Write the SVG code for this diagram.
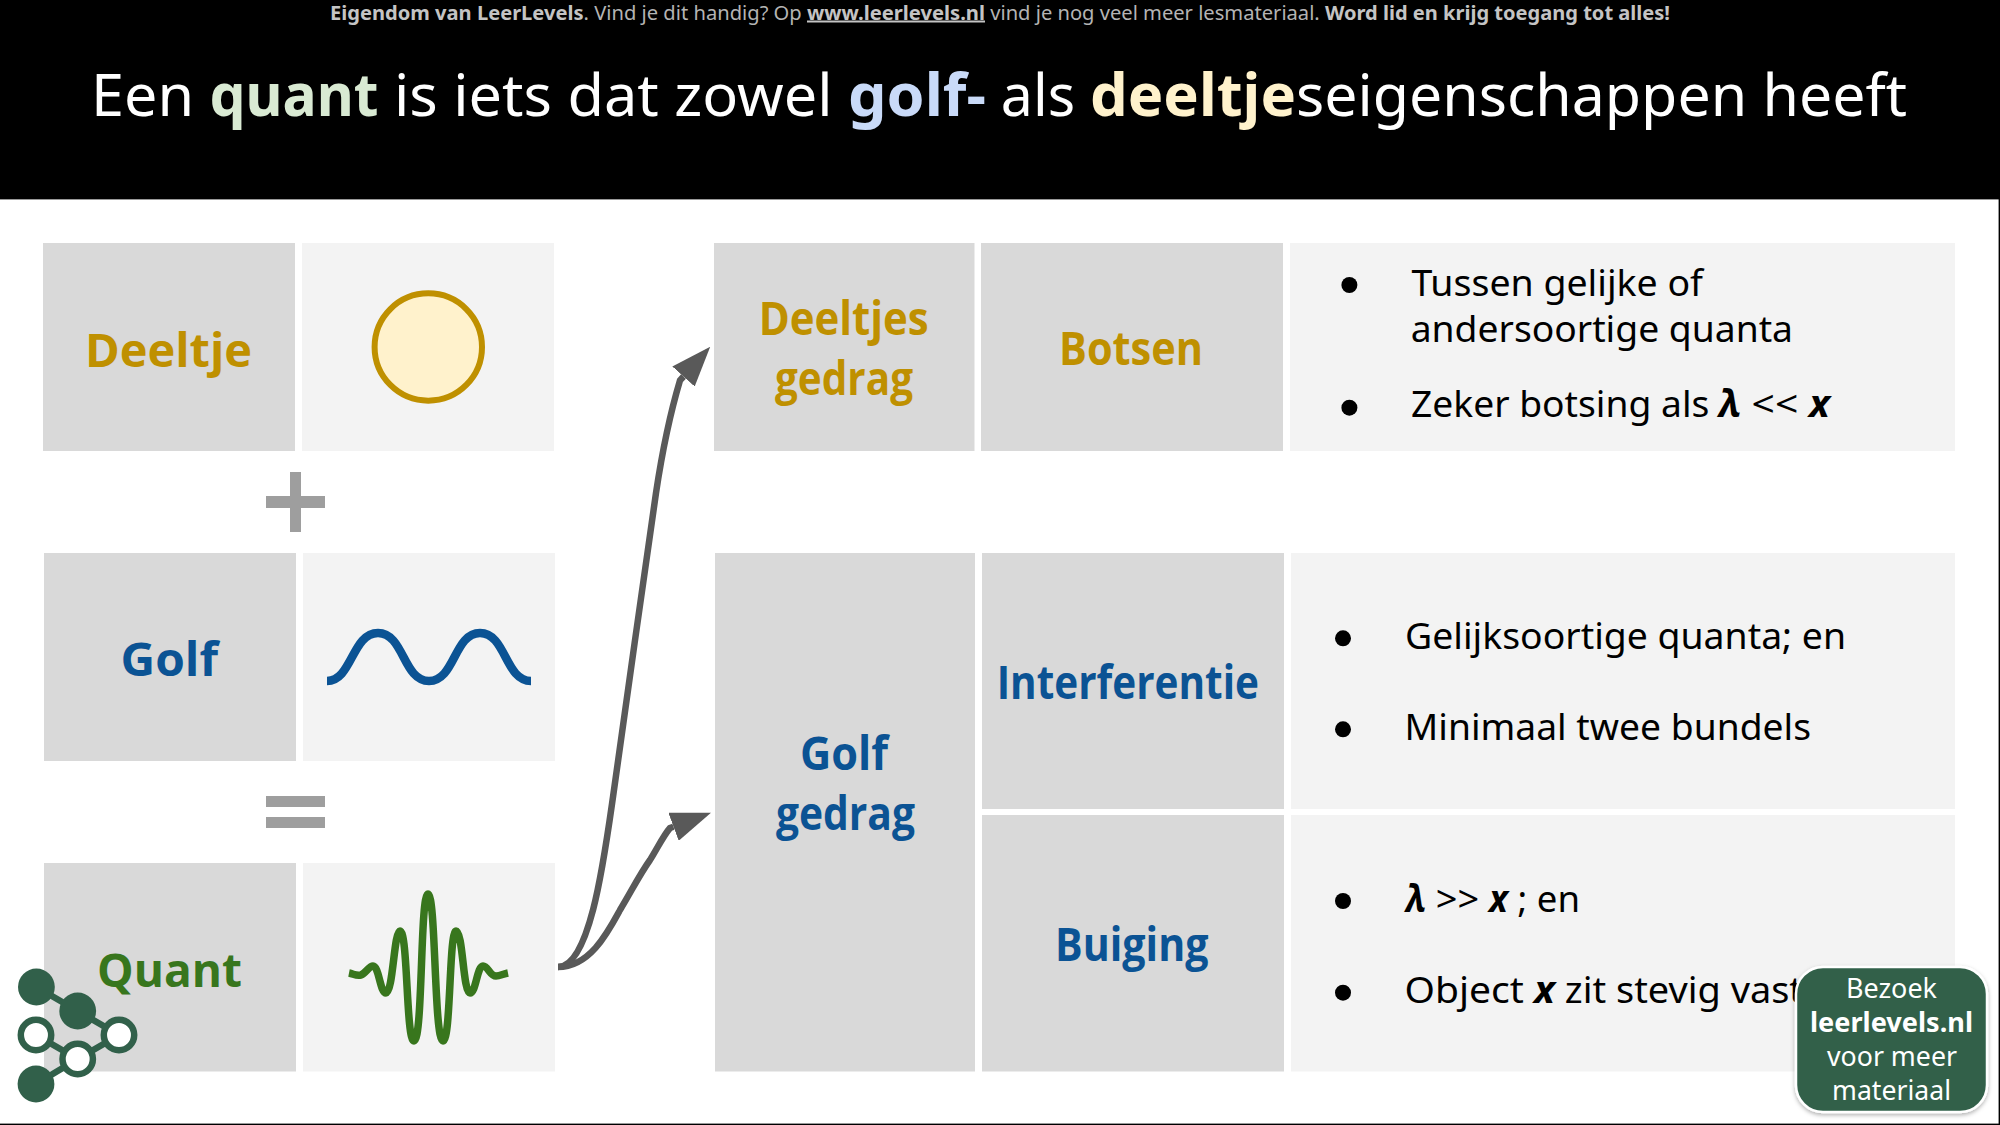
<svg xmlns="http://www.w3.org/2000/svg" width="2000" height="1125" viewBox="0 0 2000 1125">
<style>
text{font-family:"Noto Sans","Open Sans","DejaVu Sans",sans-serif}
.dark{fill:#d9d9d9}.light{fill:#f3f3f3}
.lab{font-family:"Open Sans","Noto Sans",sans-serif;font-weight:700;font-size:47px}
.y{fill:#bf9000}.b{fill:#0b5394}.g{fill:#38761d}
.body{font-size:37px;fill:#000}
.bi{font-weight:700;font-style:italic}
.bul{fill:#000}
.top{font-size:20px;fill:#b4b4b4}
.top .s{font-weight:700;fill:#c4c4c4}
.title{font-size:59px;fill:#fff}
.title .s{font-weight:700}
.wave{fill:none;stroke-width:8.5}
.wave2{fill:none;stroke-width:7.5}
.sym{fill:#9e9e9e}
.conn{fill:none;stroke:#595959;stroke-width:6.5;marker-end:url(#head)}
.lg{fill:none;stroke:#31604a;stroke-width:6.5}
.ln{fill:#31604a}.lo{fill:#fff;stroke:#31604a;stroke-width:6.5}
.bt{font-size:27px;fill:#fff;text-anchor:start}
</style>
<defs>
<marker id="head" markerUnits="userSpaceOnUse" markerWidth="40" markerHeight="30" viewBox="0 0 40 30" refX="0" refY="15" orient="auto"><polygon points="0,0 40,15 0,30" fill="#595959"/></marker>
<filter id="sh" x="-10%" y="-10%" width="120%" height="120%"><feDropShadow dx="0" dy="2" stdDeviation="2" flood-color="#000" flood-opacity="0.3"/></filter>
</defs>
<rect width="2000" height="1125" fill="#fff"/>
<g id="header">
<rect width="2000" height="199.4" fill="#000"/>
<text class="top" y="19.5"><tspan class="s" x="330" textLength="253.5" lengthAdjust="spacingAndGlyphs">Eigendom van LeerLevels</tspan><tspan x="583.5" textLength="223.5" lengthAdjust="spacingAndGlyphs">. Vind je dit handig? Op </tspan><tspan class="s" x="807" textLength="178" lengthAdjust="spacingAndGlyphs" text-decoration="underline">www.leerlevels.nl</tspan><tspan x="985" textLength="340" lengthAdjust="spacingAndGlyphs"> vind je nog veel meer lesmateriaal. </tspan><tspan class="s" x="1325" textLength="345" lengthAdjust="spacingAndGlyphs">Word lid en krijg toegang tot alles!</tspan></text>
<text class="title" y="116"><tspan x="91" textLength="118.5" lengthAdjust="spacingAndGlyphs">Een </tspan><tspan class="s" fill="#d9ead3" x="209.5" textLength="169" lengthAdjust="spacingAndGlyphs">quant</tspan><tspan x="378.5" textLength="469.5" lengthAdjust="spacingAndGlyphs"> is iets dat zowel </tspan><tspan class="s" fill="#c9daf8" x="848" textLength="138" lengthAdjust="spacingAndGlyphs">golf-</tspan><tspan x="986" textLength="104" lengthAdjust="spacingAndGlyphs"> als </tspan><tspan class="s" fill="#fff2cc" x="1090" textLength="206" lengthAdjust="spacingAndGlyphs">deeltje</tspan><tspan x="1296" textLength="611" lengthAdjust="spacingAndGlyphs">seigenschappen heeft</tspan></text>
</g>
<g id="node-deeltje">
<rect class="dark" x="43" y="243" width="252" height="208"/>
<text class="lab y" x="85" y="367" textLength="167" lengthAdjust="spacingAndGlyphs">Deeltje</text>
</g>
<g id="node-deeltje-icon">
<rect class="light" x="302" y="243" width="252" height="208"/>
<circle cx="428.3" cy="347" r="53.7" fill="#fff2cc" stroke="#bf9000" stroke-width="6"/>
</g>
<g id="plus"><rect class="sym" x="290" y="472" width="11" height="60"/><rect class="sym" x="266" y="496" width="59" height="12"/></g>
<g id="node-golf">
<rect class="dark" x="44" y="553" width="252" height="208"/>
<text class="lab b" x="120.5" y="676" textLength="97.5" lengthAdjust="spacingAndGlyphs">Golf</text>
</g>
<g id="node-golf-icon">
<rect class="light" x="303" y="553" width="252" height="208"/>
<path class="wave" stroke="#0b5394" d="M327 681C352 681 352 633 378 633S403 681 429 681S454 633 480 633S505 681 531 681"/>
</g>
<g id="equals"><rect class="sym" x="266" y="796" width="59" height="11"/><rect class="sym" x="266" y="817" width="59" height="11"/></g>
<g id="node-quant">
<rect class="dark" x="44" y="863" width="252" height="208.5"/>
<text class="lab g" x="97" y="987" textLength="145" lengthAdjust="spacingAndGlyphs">Quant</text>
</g>
<g id="node-quant-icon">
<rect class="light" x="303" y="863" width="252" height="208.5"/>
<path class="wave2" stroke="#38761d" d="M349 973C354 974 356 976 361 975C366 973 369 966 373 966C379 966 380 993 386 993C393 993 394 931 400 931C408 931 406 1041 414 1041C423 1041 420 894 428 894C436 894 434 1041 443 1041C451 1041 449 931 456 931C463 931 463 993 470 993C476 993 477 966 483 966C488 966 490 976 496 976C500 976 503 974 508 973"/>
</g>
<g id="node-deeltjes-gedrag">
<rect class="dark" x="714" y="243" width="260.5" height="208"/>
<text class="lab y" x="758.7" y="335" textLength="170" lengthAdjust="spacingAndGlyphs">Deeltjes</text>
<text class="lab y" x="775" y="395" textLength="138" lengthAdjust="spacingAndGlyphs">gedrag</text>
</g>
<g id="node-botsen">
<rect class="dark" x="981" y="243" width="302" height="208"/>
<text class="lab y" x="1059" y="365" textLength="144" lengthAdjust="spacingAndGlyphs">Botsen</text>
</g>
<g id="node-botsen-tekst">
<rect class="light" x="1290" y="243" width="665" height="208"/>
<circle class="bul" cx="1349.4" cy="285" r="8"/>
<text class="body" x="1411.4" y="295.7" textLength="291.6" lengthAdjust="spacingAndGlyphs">Tussen gelijke of</text>
<text class="body" x="1410.7" y="341.7" textLength="382.3" lengthAdjust="spacingAndGlyphs">andersoortige quanta</text>
<circle class="bul" cx="1349.4" cy="407.7" r="8"/>
<text class="body" y="417"><tspan x="1411" textLength="308" lengthAdjust="spacingAndGlyphs">Zeker botsing als </tspan><tspan class="bi" x="1719" textLength="22" lengthAdjust="spacingAndGlyphs">λ</tspan><tspan x="1741" textLength="68" lengthAdjust="spacingAndGlyphs"> &lt;&lt; </tspan><tspan class="bi" x="1809" textLength="21" lengthAdjust="spacingAndGlyphs">x</tspan></text>
</g>
<g id="node-golf-gedrag">
<rect class="dark" x="715" y="553" width="260" height="518.5"/>
<text class="lab b" x="800" y="770" textLength="88" lengthAdjust="spacingAndGlyphs">Golf</text>
<text class="lab b" x="776" y="830" textLength="139" lengthAdjust="spacingAndGlyphs">gedrag</text>
</g>
<g id="node-interferentie">
<rect class="dark" x="982" y="553" width="302" height="256"/>
<text class="lab b" x="996.7" y="699" textLength="262.3" lengthAdjust="spacingAndGlyphs">Interferentie</text>
</g>
<g id="node-interferentie-tekst">
<rect class="light" x="1291" y="553" width="664" height="256"/>
<circle class="bul" cx="1343" cy="638.3" r="8"/>
<text class="body" x="1405" y="649" textLength="441" lengthAdjust="spacingAndGlyphs">Gelijksoortige quanta; en</text>
<circle class="bul" cx="1343" cy="729.3" r="8"/>
<text class="body" x="1404.5" y="740" textLength="406.5" lengthAdjust="spacingAndGlyphs">Minimaal twee bundels</text>
</g>
<g id="node-buiging">
<rect class="dark" x="982" y="815" width="302" height="256.5"/>
<text class="lab b" x="1055" y="961" textLength="153.5" lengthAdjust="spacingAndGlyphs">Buiging</text>
</g>
<g id="node-buiging-tekst">
<rect class="light" x="1291" y="815" width="664" height="256.5"/>
<circle class="bul" cx="1343" cy="901" r="8"/>
<text class="body" y="911.7"><tspan class="bi" x="1406" textLength="20" lengthAdjust="spacingAndGlyphs">λ</tspan><tspan x="1426" textLength="63" lengthAdjust="spacingAndGlyphs"> &gt;&gt; </tspan><tspan class="bi" x="1489" textLength="19" lengthAdjust="spacingAndGlyphs">x</tspan><tspan x="1508" textLength="72" lengthAdjust="spacingAndGlyphs"> ; en</tspan></text>
<circle class="bul" cx="1343" cy="992.7" r="8"/>
<text class="body" y="1003"><tspan x="1404.5" textLength="129.5" lengthAdjust="spacingAndGlyphs">Object </tspan><tspan class="bi" x="1534" textLength="21" lengthAdjust="spacingAndGlyphs">x</tspan><tspan x="1555" textLength="248" lengthAdjust="spacingAndGlyphs"> zit stevig vast</tspan></text>
</g>
<g id="connectors">
<path class="conn" d="M558 967C590 967 604 860 613 797C622 734 646 560 656 493C662 453 670 414 680 380.4L683.5 376.5"/>
<path class="conn" d="M558 967C590 967 608 932 620 910C632 890 640 874 650 860C656 851 663 836 670 828L673.5 826.7"/>
</g>
<g id="logo">
<path class="lg" d="M36.4 987L77.7 1011L119 1035L77.7 1059L36 1035M77.7 1059L36 1084"/>
<circle class="ln" cx="36.4" cy="987" r="18.4"/>
<circle class="ln" cx="77.7" cy="1011" r="18.4"/>
<circle class="lo" cx="36" cy="1035" r="15.2"/>
<circle class="lo" cx="119" cy="1035" r="15.2"/>
<circle class="lo" cx="77.7" cy="1059" r="15.2"/>
<circle class="ln" cx="36" cy="1084" r="18.4"/>
</g>
<g id="badge">
<rect x="1796" y="967" width="191" height="145" rx="27" fill="#31604a" stroke="#fff" stroke-width="2.5" filter="url(#sh)"/>
<text class="bt" x="1846" y="998" textLength="91" lengthAdjust="spacingAndGlyphs">Bezoek</text>
<text class="bt" x="1810" y="1032" font-weight="700" textLength="163" lengthAdjust="spacingAndGlyphs">leerlevels.nl</text>
<text class="bt" x="1827" y="1066" textLength="130" lengthAdjust="spacingAndGlyphs">voor meer</text>
<text class="bt" x="1832" y="1100" textLength="119" lengthAdjust="spacingAndGlyphs">materiaal</text>
</g>
<g id="rand"><rect x="0" y="1123.6" width="2000" height="1.4" fill="#000"/><rect x="1998.6" y="199" width="1.4" height="926" fill="#000"/></g>
</svg>
